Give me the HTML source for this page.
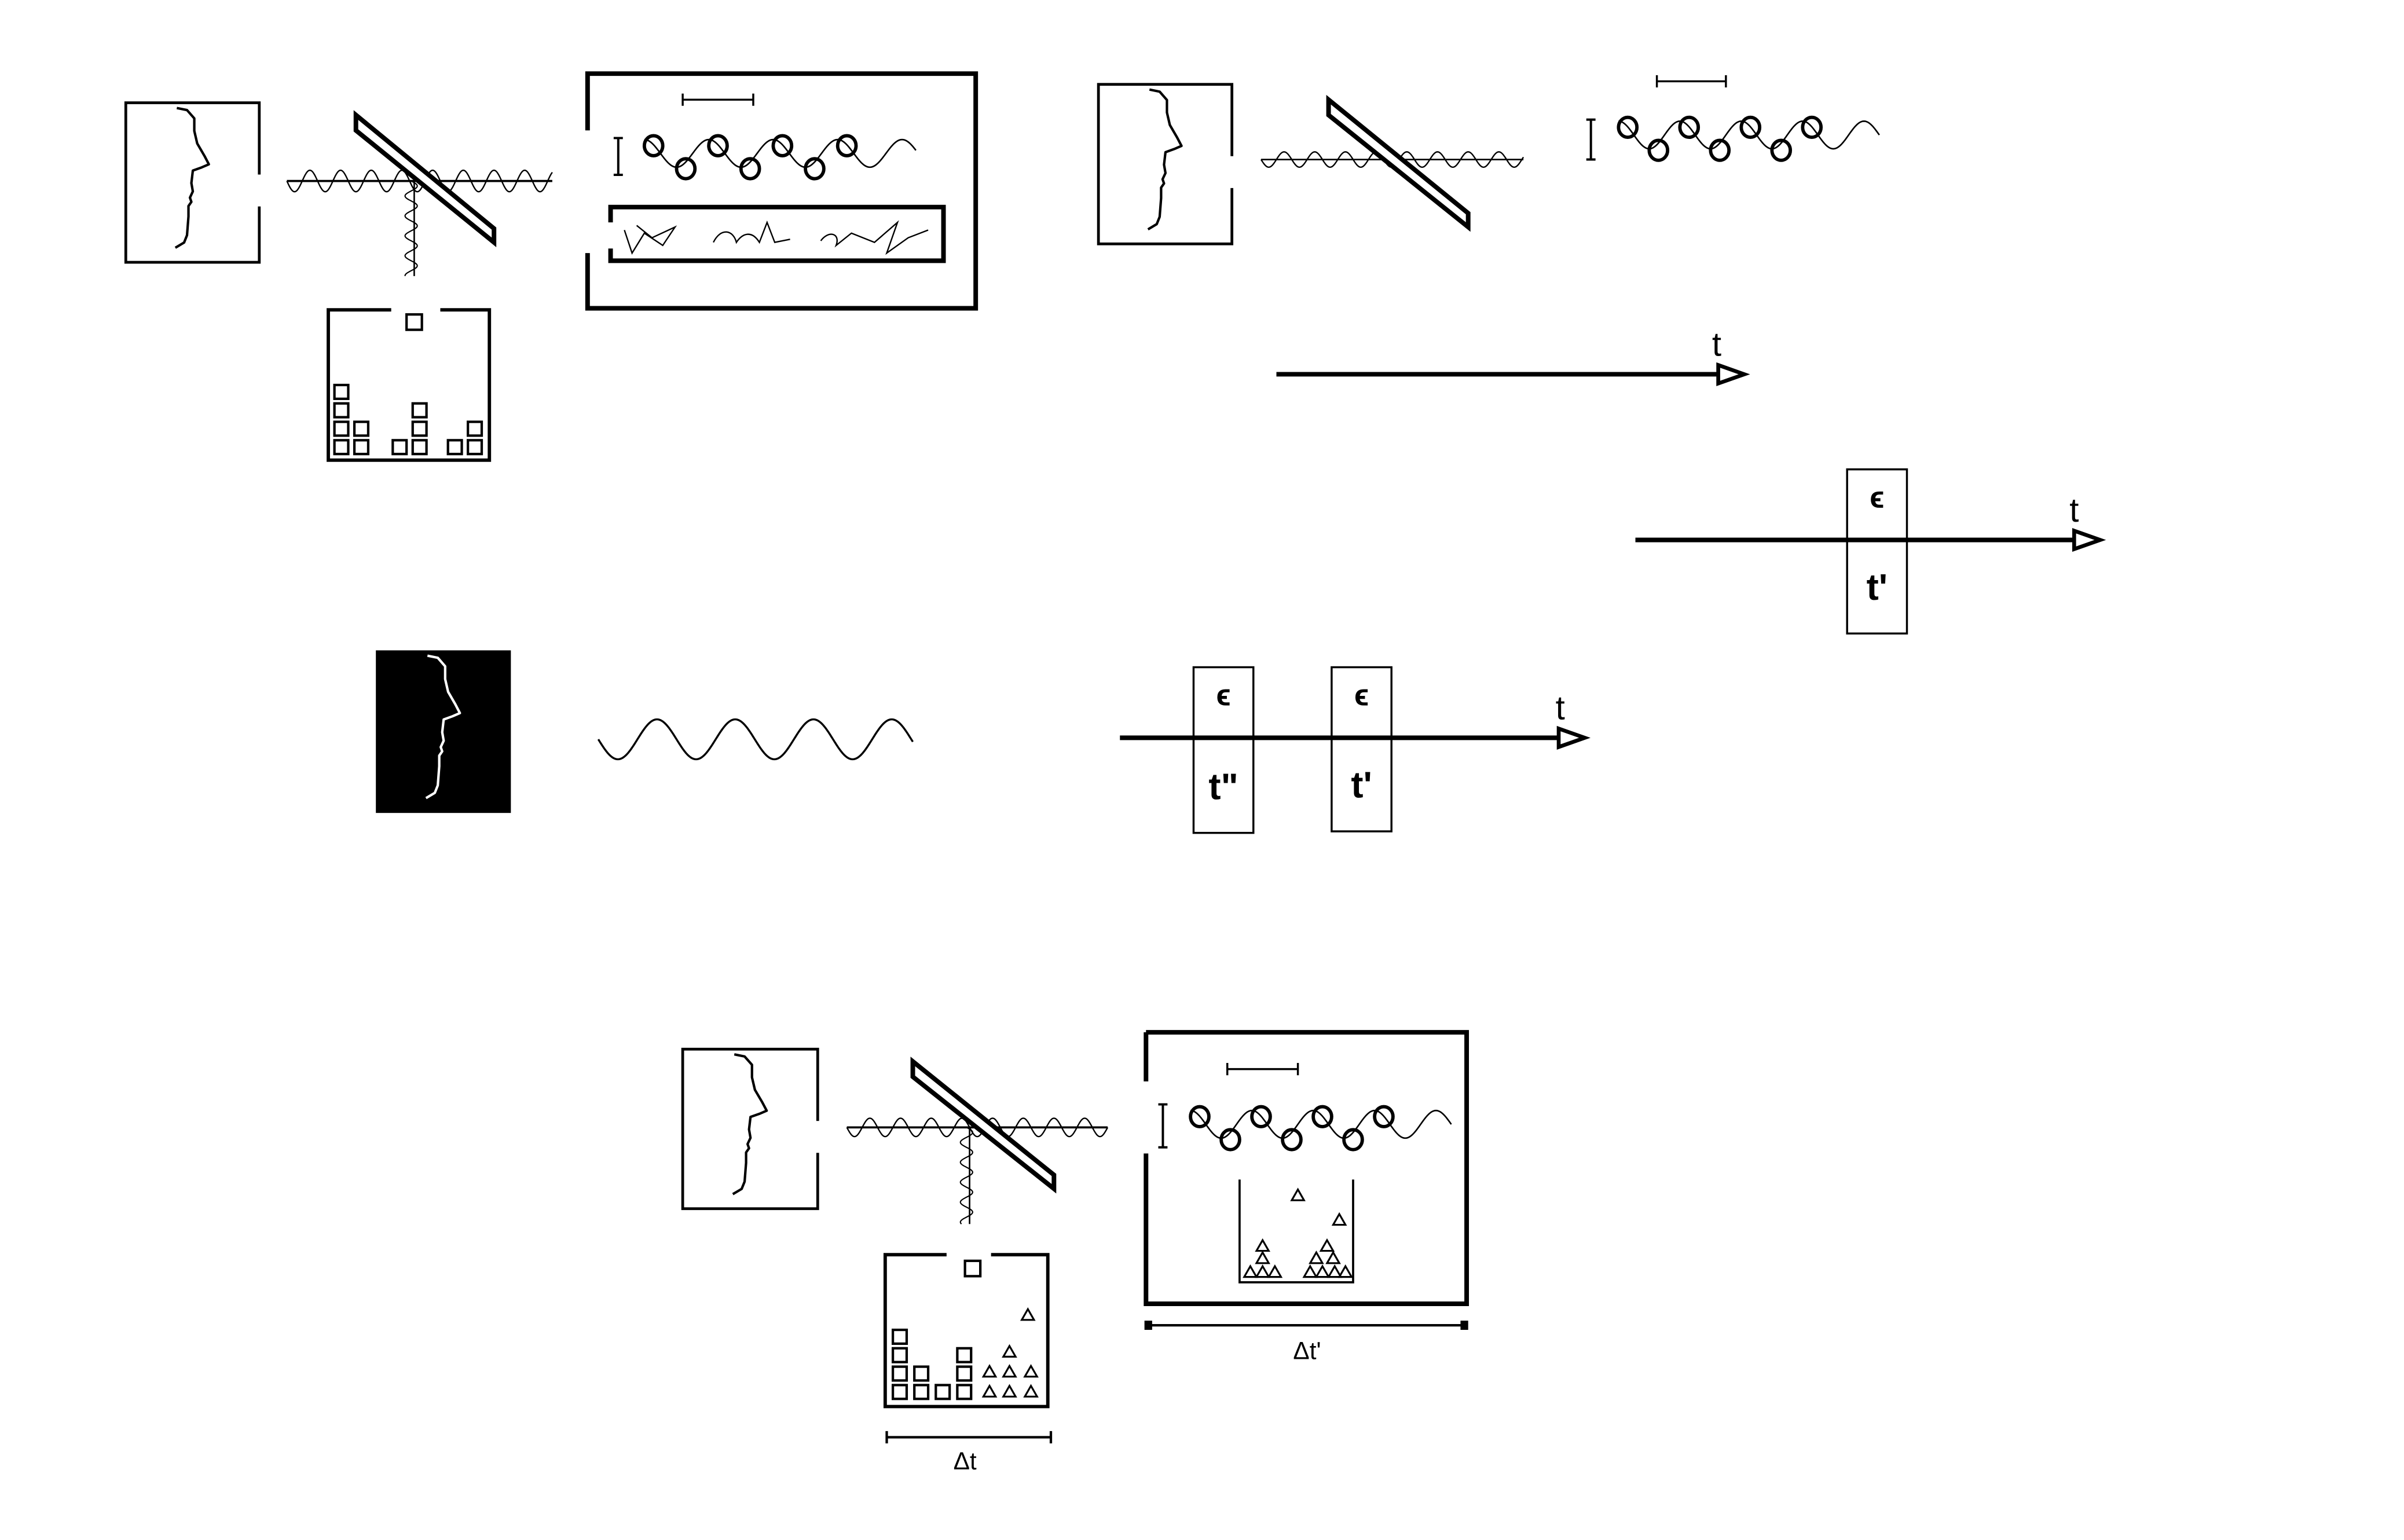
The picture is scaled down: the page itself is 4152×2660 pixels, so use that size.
<!DOCTYPE html>
<html><head><meta charset="utf-8"><style>
html,body{margin:0;padding:0;background:#fff;}
svg{display:block;}
text{font-family:"Liberation Sans",sans-serif;fill:#000;}
</style></head><body>
<svg id="s" width="4152" height="2660" viewBox="0 0 1567 1004" preserveAspectRatio="none" xmlns="http://www.w3.org/2000/svg" fill="none" stroke="#000">
</svg>
<script>
const NS="http://www.w3.org/2000/svg";
const s=document.getElementById('s');
function el(tag,attrs,name,parent){
  const e=document.createElementNS(NS,tag);
  for(const k in attrs)e.setAttribute(k,attrs[k]);
  
  
  (parent||s).appendChild(e);return e;
}
function txt(x,y,t,size,bold,name){
  const e=el('text',{x:x,y:y,'font-size':size,'text-anchor':'middle','font-weight':bold?'bold':'normal',stroke:'none',fill:'#000'},name);
  e.textContent=t;return e;
}
function wave(x0,x1,y,amp,period,sw,name,vertical){
  let p='';
  for(let x=x0;x<=x1;x+=0.5){
    const v=y+amp*Math.sin((x-x0)/period*2*Math.PI);
    p+=(p?'L':'M')+(vertical?v+','+x:x+','+v);
  }
  el('path',{d:p,'stroke-width':sw},name);
}
function face(x,y,w,h,color,name){
  const sx=w/87,sy=h/104;
  const pts=[[35,8],[42,10],[47,18],[47,30],[49,42],[54,54],[57,62],[52,65],[46,68],[45,80],[46,88],[44,94],[45,98],[43,102],[43,112],[42,130],[40,137],[34,142]];
  let d='';
  pts.forEach((p,i)=>{d+=(i?'L':'M')+(x+p[0]*sx*0.95)+','+(y+(p[1]-3)*sy*0.68);});
  el('path',{d:d,'stroke-width':1.6,stroke:color,'stroke-linejoin':'round'},name);
}
function faceBox(x,y,w,h,name){
  el('rect',{x:x,y:y,width:w,height:h,'stroke-width':1.8},name);
  el('rect',{x:x+w-3,y:y+h*0.45,width:6,height:h*0.2,fill:'#fff',stroke:'none'},name+'-gap');
  face(x,y,w,h,'#000',name+'-profile');
}
function mirror(x0,y0,x1,y1,name){
  el('polygon',{points:`${x0},${y0} ${x0},${y0+10} ${x1},${y1} ${x1},${y1-9}`,'stroke-width':3,fill:'#fff'},name);
}
function ibar(x,y0,y1,name){
  el('path',{d:`M${x-3},${y0}H${x+3}M${x},${y0}V${y1}M${x-3},${y1}H${x+3}`,'stroke-width':1.5},name);
}
function scale(x0,x1,y,name){
  el('path',{d:`M${x0},${y-4}V${y+4}M${x0},${y}H${x1}M${x1},${y-4}V${y+4}`,'stroke-width':1.3},name);
}
function circleWave(x0,y,n,step,name){
  let d='';
  for(let x=x0;x<=x0+n*step+30;x+=0.5){
    const v=y+9*Math.sin((x-x0)/(2*step)*2*Math.PI-Math.PI/2);
    d+=(d?'L':'M')+x+','+v;
  }
  el('path',{d:d,'stroke-width':1},name+'-wave');
  for(let i=0;i<n;i++){
    const up=i%2===0;
    el('ellipse',{cx:x0+6+i*step,cy:y+(up?-5:10),rx:6,ry:6.5,'stroke-width':2.2,fill:'none'},name+'-particle');
  }
}
function squares(list,name){list.forEach(p=>el('rect',{x:p[0],y:p[1],width:9,height:9,'stroke-width':1.6},name));}
function tri(cx,cy,name){el('polygon',{points:`${cx-4},${cy+3.5} ${cx+4},${cy+3.5} ${cx},${cy-3.5}`,'stroke-width':1.2},name);}
function arrow(x0,x1,y,name){
  el('line',{x1:x0,y1:y,x2:x1,y2:y,'stroke-width':3},name);
  el('polygon',{points:`${x1},${y-6} ${x1+17},${y} ${x1},${y+6}`,'stroke-width':2.5,fill:'#fff'},name+'-head');
}
function slot(x,y,w,h,top,bottom,name){
  el('rect',{x:x,y:y,width:w,height:h,'stroke-width':1.3,fill:'none'},name);
  txt(x+w/2,y+25,top,20,true,name+'-epsilon');
  txt(x+w/2,y+h-22,bottom,24,true,name+'-time');
}

/* ---------- top-left setup ---------- */
faceBox(82,67,87,104,'source-box-1');
wave(187,360,118,7,20,0.9,'beam-wave-1');
el('line',{x1:187,y1:118,x2:360,y2:118,'stroke-width':1.4},'beam-axis-1');
wave(118,180,268,4,13,0.8,'reflected-wave-1',true);
el('line',{x1:270,y1:118,x2:270,y2:180,'stroke-width':1},'reflected-axis-1');
mirror(232,75,322,158,'beam-splitter-1');
el('path',{d:'M255,202H214V300H319V202H287','stroke-width':2.2},'detector-1');
el('rect',{x:265,y:205,width:10,height:10,'stroke-width':1.6},'detector-1-incoming');
squares([[218,251],[218,263],[218,275],[231,275],[218,287],[231,287],[256,287],[269,287],[269,275],[269,263],[292,287],[305,287],[305,275]],'detector-1-count');
el('path',{d:'M383,85V48H636V201H383V165','stroke-width':3},'apparatus-box-1');
ibar(403,90,114,'uncertainty-bar-1');
scale(445,491,65,'scale-bar-1');
circleWave(420,100,7,21,'particle-train-1');
el('path',{d:'M398,145V135H615V170H398V162','stroke-width':3},'scrambled-box');
el('path',{d:'M407,150 L412,165 L420,152 L432,160 L440,148 L425,155 L415,147 M465,158 C470,148 478,150 480,158 C484,152 490,150 495,158 L500,145 L505,158 L515,156 M535,157 C540,150 548,152 545,160 L555,152 L570,158 L585,145 L578,165 L592,155 L605,150','stroke-width':0.9},'scrambled-signal');

/* ---------- top-right setup ---------- */
faceBox(716,55,87,104,'source-box-2');
wave(822,993,104,5,20,0.9,'beam-wave-2');
el('line',{x1:822,y1:104,x2:993,y2:104,'stroke-width':1},'beam-axis-2');
mirror(866,65,957,148,'beam-splitter-2');
ibar(1037,78,104,'uncertainty-bar-2');
scale(1080,1125,53,'scale-bar-2');
circleWave(1055,88,7,20,'particle-train-2');

/* ---------- time axes ---------- */
arrow(832,1120,244,'time-axis-1');
txt(1119,232,'t',22,false,'time-axis-1-label');
arrow(1066,1352,352,'time-axis-2');
txt(1352,340,'t',22,false,'time-axis-2-label');
slot(1204,306,39,107,'ϵ',"t'",'event-slot-1');
arrow(730,1016,481,'time-axis-3');
txt(1017,469,'t',22,false,'time-axis-3-label');
slot(778,435,39,108,'ϵ','t"','event-slot-2');
slot(868,435,39,107,'ϵ',"t'",'event-slot-3');

/* ---------- middle black source ---------- */
el('rect',{x:245,y:424,width:88,height:106,fill:'#000','stroke-width':0},'dark-source-box');
face(245,424,88,106,'#fff','dark-source-profile');
wave(390,595,482,13,51,1.3,'free-wave');

/* ---------- bottom setup ---------- */
faceBox(445,684,88,104,'source-box-3');
wave(552,722,735,6,20,0.9,'beam-wave-3');
el('line',{x1:552,y1:735,x2:722,y2:735,'stroke-width':1.4},'beam-axis-3');
wave(735,798,630,4,13,0.8,'reflected-wave-3',true);
el('line',{x1:632,y1:735,x2:632,y2:798,'stroke-width':1},'reflected-axis-3');
mirror(595,692,687,775,'beam-splitter-3');
el('path',{d:'M617,818H577V917H683V818H646','stroke-width':2.2},'detector-3');
el('rect',{x:629,y:822,width:10,height:10,'stroke-width':1.6},'detector-3-incoming');
squares([[582,867],[582,879],[582,891],[582,903],[596,891],[596,903],[610,903],[624,903],[624,891],[624,879]],'detector-3-count');
[[670,857],[658,881],[645,894],[658,894],[672,894],[645,907],[658,907],[672,907]].forEach(p=>tri(p[0],p[1],'detector-3-triangle'));
el('path',{d:'M578,933V941M578,937H685M685,933V941','stroke-width':1.6},'delta-t-bar');
txt(629,958,'Δt',16,false,'delta-t-label');
el('path',{d:'M747,673H956V850H747V752M747,673V705','stroke-width':3},'apparatus-box-3');
ibar(758,720,748,'uncertainty-bar-3');
scale(800,846,697,'scale-bar-3');
circleWave(776,733,7,20,'particle-train-3');
el('path',{d:'M808,769V836H882V769','stroke-width':1.4},'inner-detector');
[[846,779],[873,795],[823,812],[823,820],[815,829],[823,829],[831,829],[865,812],[858,820],[869,820],[854,829],[862,829],[870,829],[877,829]].forEach(p=>tri(p[0],p[1],'inner-detector-triangle'));
el('path',{d:'M748,864H955','stroke-width':1.6},'delta-t-prime-bar');
el('rect',{x:746,y:861,width:5,height:6,fill:'#000','stroke-width':0},'delta-t-prime-end-left');
el('rect',{x:952,y:861,width:5,height:6,fill:'#000','stroke-width':0},'delta-t-prime-end-right');
txt(852,886,"Δt'",16,false,'delta-t-prime-label');
</script>
</body></html>
